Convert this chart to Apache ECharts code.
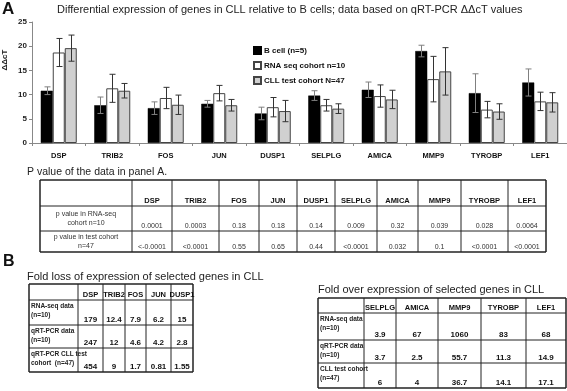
<!DOCTYPE html>
<html><head><meta charset="utf-8">
<script src="https://cdn.jsdelivr.net/npm/echarts@6/dist/echarts.min.js"></script>
<style>html,body{margin:0;padding:0;background:#fff}#c{width:567px;height:391px}</style>
</head><body><div id="c"></div>
<script>
// ---- chart data ----
const genes = ['DSP','TRIB2','FOS','JUN','DUSP1','SELPLG','AMICA','MMP9','TYROBP','LEF1'];
const seriesNames = ['B cell (n=5)','RNA seq cohort n=10','CLL test cohort N=47'];
const bcell     = [10.8, 7.8, 7.2, 8.1, 6.1, 9.8, 11.0, 19.0, 10.3, 12.5];
const bcellErr  = [0.8, 1.7, 1.3, 0.7, 1.3, 1.0, 1.6, 1.2, 4.0, 2.8];
const rnaseq    = [18.7, 11.3, 9.3, 10.3, 7.4, 7.8, 9.7, 13.2, 6.9, 8.6];
const rnaseqErr = [2.9, 2.9, 2.2, 1.6, 2.0, 1.2, 2.3, 4.7, 1.7, 1.9];
const cll       = [19.6, 10.8, 7.9, 7.8, 6.6, 7.1, 9.0, 14.8, 6.5, 8.4];
const cllErr    = [2.7, 1.5, 2.0, 1.2, 2.2, 1.0, 1.9, 4.9, 1.6, 2.0];
const yTicks = [0, 5, 10, 15, 20, 25];

// ---- table A (p values) ----
const pRowLabels = ['p value in RNA-seq\ncohort n=10', 'p value in test cohort\nn=47'];
const pRnaSeq = ['0.0001','0.0003','0.18','0.18','0.14','0.009','0.32','0.039','0.028','0.0064'];
const pTest   = ['<-0.0001','<0.0001','0.55','0.65','0.44','<0.0001','0.032','0.1','<0.0001','<0.0001'];

// ---- table B1 (fold loss) ----
const lossGenes = ['DSP','TRIB2','FOS','JUN','DUSP1'];
const lossRowLabels = ['RNA-seq data\n(n=10)','qRT-PCR data\n(n=10)','qRT-PCR CLL test\ncohort  (n=47)'];
const lossRnaSeq = ['179','12.4','7.9','6.2','15'];
const lossQpcr   = ['247','12','4.6','4.2','2.8'];
const lossTest   = ['454','9','1.7','0.81','1.55'];

// ---- table B2 (fold over) ----
const overGenes = ['SELPLG','AMICA','MMP9','TYROBP','LEF1'];
const overRowLabels = ['RNA-seq data\n(n=10)','qRT-PCR data\n(n=10)','CLL test cohort\n(n=47)'];
const overRnaSeq = ['3.9','67','1060','83','68'];
const overQpcr   = ['3.7','2.5','55.7','11.3','14.9'];
const overTest   = ['6','4','36.7','14.1','17.1'];

const FONT = '"Liberation Sans", Arial, sans-serif';
const chart = echarts.init(document.getElementById('c'), null, {renderer:'canvas'});

function errSeries(vals, errs, offset, color) {
  return {
    type: 'custom', silent: true, z: 10,
    renderItem: function (params, api) {
      const i = api.value(0), v = api.value(1), e = api.value(2);
      const hi = api.coord([i, v + e]), lo = api.coord([i, v - e]);
      const x = Math.round(hi[0] + offset) + 0.5;
      const style = {stroke: color, lineWidth: 1};
      return {type: 'group', children: [
        {type: 'line', shape: {x1: x, y1: hi[1], x2: x, y2: lo[1]}, style: style},
        {type: 'line', shape: {x1: x - 3, y1: hi[1], x2: x + 3, y2: hi[1]}, style: style},
        {type: 'line', shape: {x1: x - 3, y1: lo[1], x2: x + 3, y2: lo[1]}, style: style}
      ]};
    },
    encode: {x: 0, y: 1},
    data: vals.map((v, i) => [i, v, errs[i]])
  };
}

function txt(x, y, text, o) {
  o = o || {};
  return {type: 'text', x: x, y: y, silent: true, z: 50, style: {
    text: text, fill: o.fill || '#111', fontFamily: FONT,
    fontSize: o.size || 7, fontWeight: o.weight || 'normal',
    textAlign: o.align || 'left', align: o.align || 'left',
    textVerticalAlign: o.va || 'middle', verticalAlign: o.va || 'middle',
    lineHeight: o.lh || (o.size || 7) + 1
  }};
}
function ln(x1, y1, x2, y2, w, c) {
  return {type: 'line', silent: true, z: 40, shape: {x1: x1, y1: y1, x2: x2, y2: y2},
    style: {stroke: c || '#333', lineWidth: w || 1}};
}
function grid(xs, ys, outerW) {
  const els = [];
  for (let i = 0; i < xs.length; i++) {
    const w = (i === 0 || i === xs.length - 1) ? outerW : 1;
    els.push(ln(xs[i], ys[0], xs[i], ys[ys.length - 1], w, '#222'));
  }
  for (let j = 0; j < ys.length; j++) {
    const w = (j === 0 || j === ys.length - 1) ? outerW : 1;
    els.push(ln(xs[0], ys[j], xs[xs.length - 1], ys[j], w, '#222'));
  }
  return els;
}

const graphics = [];
graphics.push(txt(2, 9, 'A', {size: 17, weight: 'bold'}));
graphics.push(txt(57, 10, 'Differential expression of genes in CLL relative to B cells; data based on qRT-PCR \u0394\u0394cT values', {size: 11, fill: '#222'}));
graphics.push({type: 'text', x: 5, y: 60, rotation: Math.PI / 2, silent: true, style: {
  text: '\u0394\u0394cT', fill: '#222', fontFamily: FONT, fontSize: 8, fontWeight: 'bold',
  textAlign: 'center', align: 'center', textVerticalAlign: 'middle', verticalAlign: 'middle'}});
graphics.push(txt(27, 172, 'P value of the data in panel A.', {size: 10.5, fill: '#222'}));

// table A
const aX = [40, 132, 172, 219, 259, 297, 335, 377, 418, 461, 508, 546];
const aY = [180, 206, 231, 252];
graphics.push(...grid(aX, aY, 1.5));
for (let c = 0; c < genes.length; c++) {
  const cx = (aX[c + 1] + aX[c + 2]) / 2;
  graphics.push(txt(cx, aY[1] - 1, genes[c], {align: 'center', va: 'bottom', weight: 'bold', size: 7.5}));
  graphics.push(txt(cx, aY[2] - 1, pRnaSeq[c], {align: 'center', va: 'bottom', size: 7, fill: '#333'}));
  graphics.push(txt(cx, aY[3] - 1, pTest[c], {align: 'center', va: 'bottom', size: 7, fill: '#333'}));
}
for (let r = 0; r < 2; r++) {
  graphics.push(txt((aX[0] + aX[1]) / 2, (aY[r + 1] + aY[r + 2]) / 2, pRowLabels[r], {align: 'center', size: 7, fill: '#333', lh: 8.5}));
}

// panel B
graphics.push(txt(3, 262, 'B', {size: 16, weight: 'bold'}));
graphics.push(txt(27, 277, 'Fold loss of expression of selected genes in CLL', {size: 11, fill: '#222'}));
graphics.push(txt(318, 290, 'Fold over expression of selected genes in CLL', {size: 11, fill: '#222'}));

function tableB(xs, ys, hdr, labels, rows) {
  graphics.push(...grid(xs, ys, 1.5));
  for (let c = 0; c < hdr.length; c++) {
    const cx = (xs[c + 1] + xs[c + 2]) / 2;
    graphics.push(txt(cx, ys[1] - 1, hdr[c], {align: 'center', va: 'bottom', weight: 'bold', size: 7.5}));
    for (let r = 0; r < rows.length; r++) {
      graphics.push(txt(cx, ys[r + 2] - 1, rows[r][c], {align: 'center', va: 'bottom', weight: 'bold', size: 8}));
    }
  }
  for (let r = 0; r < labels.length; r++) {
    graphics.push(txt(xs[0] + 2, ys[r + 1] + 2, labels[r], {va: 'top', weight: 'bold', size: 6.5, fill: '#222', lh: 8.5}));
  }
}
tableB([29, 78, 103, 125, 146, 171, 193], [284, 300, 325, 348, 372], lossGenes, lossRowLabels, [lossRnaSeq, lossQpcr, lossTest]);
tableB([318, 364, 396, 438, 481, 526, 566], [298, 313, 340, 363, 388], overGenes, overRowLabels, [overRnaSeq, overQpcr, overTest]);

const option = {
  animation: false,
  backgroundColor: '#fff',
  textStyle: {fontFamily: FONT},
  grid: {left: 32, right: 0, top: 22, bottom: 248, containLabel: false},
  legend: {
    orient: 'vertical', left: 248, top: 41, itemWidth: 7, itemHeight: 7, itemGap: 6,
    icon: 'rect', data: seriesNames,
    textStyle: {fontSize: 8, fontWeight: 'bold', color: '#111', fontFamily: FONT, padding: [0, 0, 0, -2]}
  },
  xAxis: {
    type: 'category', data: genes,
    axisLine: {lineStyle: {color: '#888'}},
    axisTick: {show: true, length: 3, lineStyle: {color: '#888'}},
    axisLabel: {fontSize: 7.5, fontWeight: 'bold', color: '#111', margin: 9, fontFamily: FONT, interval: 0}
  },
  yAxis: {
    type: 'value', min: yTicks[0], max: yTicks[yTicks.length - 1], interval: 5,
    axisLine: {show: true, lineStyle: {color: '#888'}},
    axisTick: {show: true, length: 3, lineStyle: {color: '#888'}},
    splitLine: {show: false},
    axisLabel: {fontSize: 8, fontWeight: 'bold', color: '#222', margin: 5, fontFamily: FONT}
  },
  series: [
    {name: seriesNames[0], type: 'bar', data: bcell, barWidth: 12, barGap: '0%',
      itemStyle: {color: '#000', borderColor: '#000', borderWidth: 0.5}},
    {name: seriesNames[1], type: 'bar', data: rnaseq, barWidth: 12, barGap: '0%',
      itemStyle: {color: '#fff', borderColor: '#444', borderWidth: 1}},
    {name: seriesNames[2], type: 'bar', data: cll, barWidth: 12, barGap: '0%',
      itemStyle: {color: '#d0d0d0', borderColor: '#444', borderWidth: 1}},
    errSeries(bcell, bcellErr, -12, '#808080'),
    errSeries(rnaseq, rnaseqErr, 0, '#333'),
    errSeries(cll, cllErr, 12, '#333')
  ],
  graphic: graphics
};
chart.setOption(option);
</script>
</body></html>
